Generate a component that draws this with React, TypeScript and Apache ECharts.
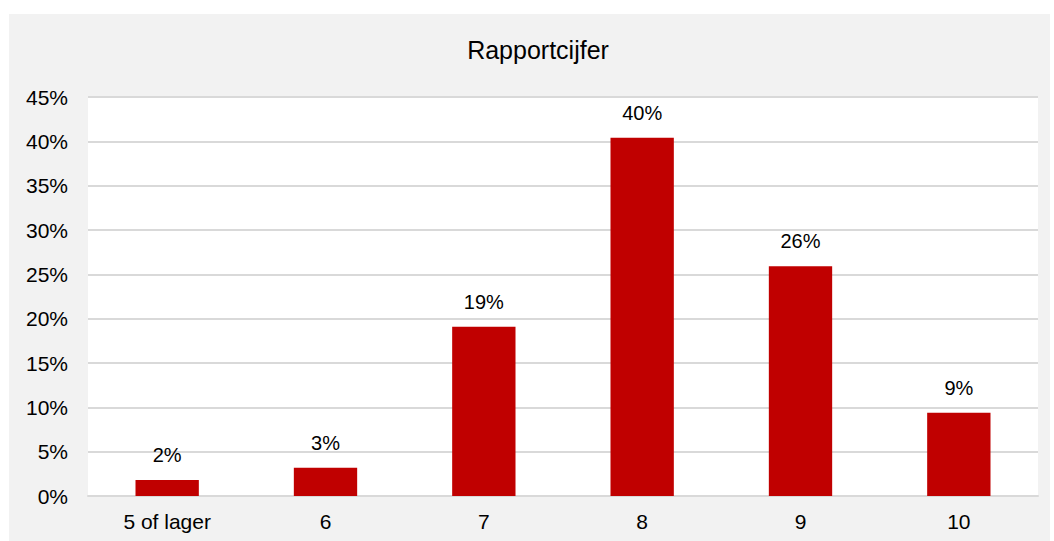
import React, { useEffect, useRef } from "react";
import * as echarts from "echarts";

const categories = ["5 of lager", "6", "7", "8", "9", "10"];
const values = [1.8, 3.2, 19.1, 40.4, 25.9, 9.4];
const yTicks = [0, 5, 10, 15, 20, 25, 30, 35, 40, 45];
const title = "Rapportcijfer";

export default function App() {
  const ref = useRef<HTMLDivElement>(null);
  useEffect(() => {
    if (!ref.current) return;
    const chart = echarts.init(ref.current, null, { renderer: "svg" });
    const font = "Arial, 'Liberation Sans', sans-serif";
    chart.setOption({
      animation: false,
      backgroundColor: "#ffffff",
      graphic: [
        {
          type: "rect",
          z: -10,
          silent: true,
          shape: { x: 9, y: 14, width: 1041, height: 527 },
          style: { fill: "#f2f2f2" },
        },
        {
          type: "text",
          x: 538,
          y: 50,
          style: {
            text: title,
            fill: "#000000",
            font: `25px ${font}`,
            align: "center",
            verticalAlign: "middle",
          },
        },
      ],
      grid: {
        left: 88,
        top: 97,
        width: 950,
        height: 399,
        show: true,
        backgroundColor: "#ffffff",
        borderWidth: 0,
        containLabel: false,
      },
      xAxis: {
        type: "category",
        data: categories,
        axisLine: { show: true, lineStyle: { color: "#d9d9d9", width: 2 } },
        axisTick: { show: false },
        axisLabel: {
          color: "#000000",
          fontSize: 21,
          fontFamily: font,
          margin: 15,
        },
      },
      yAxis: {
        type: "value",
        min: yTicks[0],
        max: yTicks[yTicks.length - 1],
        interval: 5,
        axisLine: { show: false },
        axisTick: { show: false },
        splitLine: { show: true, lineStyle: { color: "#d9d9d9", width: 2 } },
        axisLabel: {
          color: "#000000",
          fontSize: 21,
          fontFamily: font,
          margin: 20,
          formatter: (v: number) => `${v}%`,
        },
      },
      series: [
        {
          type: "bar",
          data: values,
          barWidth: "40%",
          itemStyle: { color: "#c00000" },
          label: {
            show: true,
            position: "top",
            distance: 15,
            color: "#000000",
            fontSize: 20,
            fontFamily: font,
            formatter: (p: any) => `${Math.round(p.value)}%`,
          },
        },
      ],
    });
    return () => chart.dispose();
  }, []);
  return (
    <div
      ref={ref}
      style={{ position: "fixed", left: 0, top: 0, width: 1054, height: 541 }}
    />
  );
}
